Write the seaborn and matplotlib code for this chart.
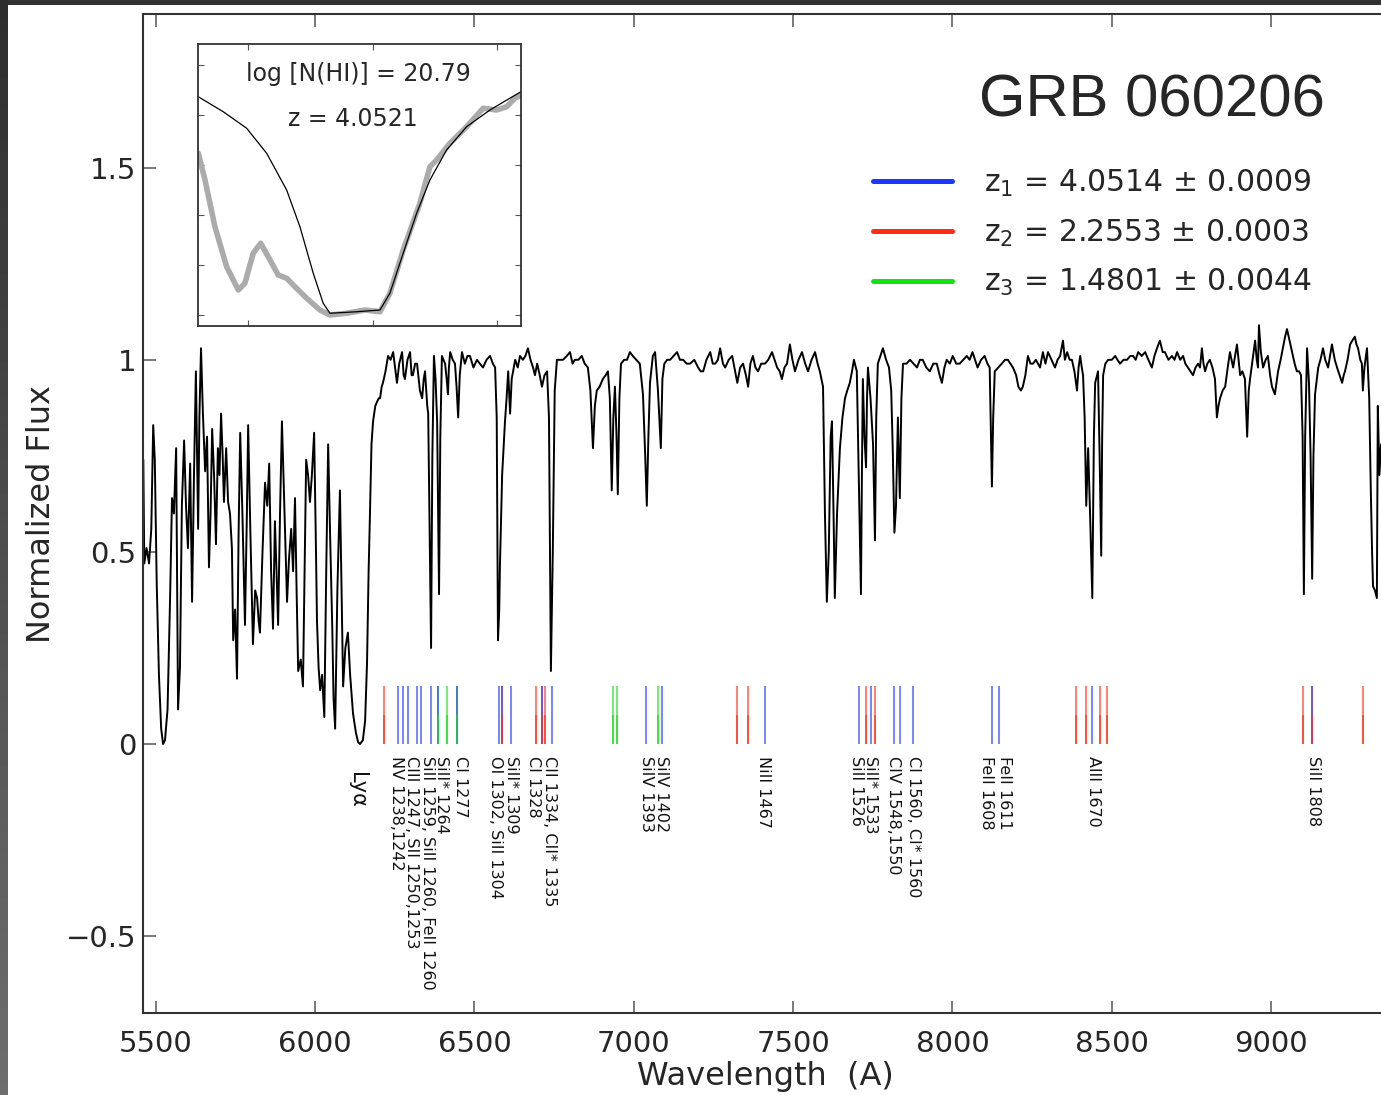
import numpy as np
import pandas as pd
import matplotlib
matplotlib.use("Agg")
import matplotlib.pyplot as plt
from matplotlib.lines import Line2D
from matplotlib.patches import Rectangle
import seaborn as sns

wave = [5461, 5464, 5471, 5479, 5486, 5492, 5497, 5503, 5510, 5517, 5523, 5529, 5537, 5545, 5551, 5557,
        5564, 5570, 5576, 5582, 5589, 5595, 5601, 5608, 5614, 5620, 5626, 5633, 5637, 5642, 5648, 5655,
        5661, 5667, 5672, 5677, 5683, 5689, 5695, 5700, 5705, 5710, 5714, 5721, 5727, 5733, 5739, 5743,
        5749, 5755, 5760, 5765, 5772, 5780, 5786, 5790, 5797, 5805, 5812, 5818, 5823, 5827, 5835, 5843,
        5850, 5856, 5862, 5868, 5874, 5879, 5884, 5890, 5896, 5904, 5912, 5918, 5925, 5931, 5937, 5942,
        5947, 5955, 5962, 5967, 5972, 5978, 5984, 5990, 5997, 6002, 6006, 6011, 6016, 6022, 6029, 6035,
        6041, 6047, 6054, 6058, 6063, 6070, 6078, 6083, 6088, 6095, 6103, 6110, 6119, 6128, 6135, 6141,
        6150, 6157, 6163, 6168, 6172, 6177, 6182, 6189, 6194, 6200, 6204, 6209, 6213,
        6221, 6229, 6237, 6245, 6251, 6257, 6264, 6273, 6278, 6282, 6290, 6298, 6303, 6307, 6314, 6320,
        6329, 6336, 6341, 6345, 6352, 6355, 6364, 6368, 6373, 6378, 6383, 6389, 6393, 6398, 6408, 6413,
        6417, 6420, 6424, 6432, 6439, 6444, 6449, 6454, 6461, 6470, 6478, 6486, 6497, 6508, 6517, 6527,
        6538, 6549, 6558, 6565, 6570, 6574, 6578, 6580, 6587, 6596, 6601, 6606, 6612, 6617, 6628, 6636,
        6643, 6652, 6660, 6668, 6676, 6684, 6690, 6697, 6705, 6712, 6720, 6728, 6734, 6740, 6746, 6752,
        6759, 6768, 6778, 6790, 6800, 6808, 6815, 6826, 6837, 6846, 6856, 6864, 6872, 6878, 6884, 6893,
        6903, 6912, 6919, 6925, 6931, 6936, 6941, 6946, 6950, 6955, 6960, 6970, 6979, 6988, 6997, 7008,
        7019, 7029, 7036, 7041, 7046, 7051, 7060, 7067, 7076, 7085, 7090, 7096, 7105, 7114, 7125, 7136,
        7145, 7155, 7166, 7177, 7190, 7202, 7210, 7218, 7228, 7240, 7248, 7256, 7264, 7271, 7280, 7287,
        7298, 7309, 7318, 7325, 7334, 7343, 7352, 7359, 7366, 7374, 7382, 7390, 7400, 7412, 7422, 7434,
        7442, 7450, 7458, 7465, 7473, 7481, 7490, 7498, 7506, 7517, 7528, 7538, 7547, 7558, 7569, 7577,
        7584, 7594, 7600, 7606, 7612, 7618, 7622, 7627, 7631, 7638, 7647, 7655, 7663, 7670, 7678, 7685,
        7691, 7700, 7706, 7713, 7716, 7719, 7724, 7729, 7732, 7735, 7743, 7751, 7757, 7761, 7766, 7774,
        7782, 7792, 7801, 7808, 7813, 7818, 7823, 7829, 7835, 7840, 7845, 7856, 7867, 7878, 7889, 7898,
        7907, 7918, 7929, 7940, 7951, 7960, 7967, 7975, 7982, 7992, 8001, 8012, 8023, 8034, 8045, 8054,
        8063, 8071, 8079, 8090, 8101, 8110, 8117, 8120, 8124, 8128, 8133, 8144, 8155, 8165, 8174, 8182,
        8190, 8200, 8207, 8215, 8221, 8229, 8237, 8245, 8253, 8262, 8275, 8284, 8292, 8300, 8311, 8322,
        8330, 8338, 8347, 8353, 8360, 8368, 8375, 8383, 8391, 8396, 8401, 8406, 8410, 8415, 8420, 8426,
        8432, 8439, 8444, 8448, 8457, 8462, 8467, 8470, 8473, 8480, 8489, 8500, 8511, 8518, 8526, 8537,
        8548, 8558, 8567, 8575, 8583, 8594, 8605, 8615, 8626, 8634, 8642, 8651, 8660, 8667, 8678, 8689,
        8697, 8705, 8715, 8724, 8731, 8739, 8747, 8755, 8763, 8771, 8777, 8783, 8788, 8793, 8800, 8808,
        8816, 8824, 8830, 8835, 8840, 8848, 8856, 8864, 8871, 8876, 8881, 8887, 8893, 8898, 8903, 8910,
        8918, 8925, 8930, 8934, 8942, 8950, 8955, 8959, 8962, 8968, 8975, 8983, 8990, 8997, 9003, 9012,
        9017, 9022, 9030, 9037, 9044, 9050, 9058, 9066, 9074, 9081, 9088, 9094, 9099, 9103, 9107, 9113,
        9119, 9124, 9129, 9133, 9138, 9148, 9155, 9163, 9170, 9179, 9185, 9191, 9200, 9207, 9215, 9223,
        9228, 9232, 9240, 9248, 9255, 9263, 9268, 9273, 9280, 9285, 9288, 9293, 9301, 9308, 9313, 9317,
        9320, 9326, 9332, 9335, 9340, 9345]
flux = [0.74, 0.47, 0.51, 0.47, 0.56, 0.83, 0.74, 0.42, 0.18, 0.04, 0.00, 0.01, 0.09, 0.38, 0.64, 0.60,
        0.77, 0.09, 0.20, 0.62, 0.79, 0.62, 0.51, 0.73, 0.37, 0.70, 0.97, 0.56, 0.85, 1.03, 0.86, 0.71,
        0.80, 0.46, 0.60, 0.82, 0.70, 0.52, 0.77, 0.70, 0.86, 0.75, 0.63, 0.77, 0.63, 0.60, 0.51, 0.27,
        0.35, 0.17, 0.55, 0.81, 0.60, 0.31, 0.60, 0.83, 0.55, 0.26, 0.40, 0.38, 0.32, 0.29, 0.50, 0.68,
        0.62, 0.73, 0.45, 0.30, 0.58, 0.45, 0.31, 0.60, 0.84, 0.60, 0.37, 0.48, 0.56, 0.45, 0.64, 0.40,
        0.19, 0.22, 0.15, 0.45, 0.74, 0.70, 0.63, 0.70, 0.81, 0.55, 0.32, 0.20, 0.14, 0.18, 0.07, 0.45,
        0.78, 0.55, 0.30, 0.12, 0.04, 0.40, 0.66, 0.40, 0.15, 0.25, 0.29, 0.18, 0.08, 0.03, 0.005, 0.00,
        0.01, 0.06, 0.21, 0.45, 0.59, 0.78, 0.84, 0.88, 0.89, 0.90, 0.90, 0.93, 0.94,
        0.97, 1.01, 1.00, 1.02, 0.98, 0.94, 0.99, 1.02, 0.96, 0.95, 1.00, 1.02, 0.96, 0.96, 0.99, 0.99,
        0.92, 0.90, 0.95, 0.97, 0.88, 0.86, 0.25, 0.75, 1.01, 0.95, 0.84, 0.39, 0.80, 1.01, 0.99, 0.95,
        0.91, 0.98, 1.02, 1.00, 0.99, 0.93, 0.85, 0.96, 1.02, 0.99, 1.01, 1.01, 0.98, 1.00, 0.99, 0.98,
        1.00, 1.01, 0.99, 0.98, 0.85, 0.27, 0.35, 0.46, 0.70, 0.84, 0.90, 0.97, 0.86, 0.95, 1.00, 0.98,
        1.01, 1.00, 1.01, 1.03, 1.00, 0.98, 0.96, 0.99, 0.96, 0.93, 0.96, 0.97, 0.85, 0.19, 0.50, 0.92,
        1.00, 1.00, 1.00, 1.01, 1.02, 0.99, 1.00, 1.00, 1.01, 0.99, 0.98, 0.92, 0.77, 0.88, 0.92, 0.93,
        0.95, 0.96, 0.97, 0.90, 0.66, 0.85, 0.93, 0.80, 0.65, 0.90, 0.99, 1.00, 1.00, 1.02, 1.01, 1.00,
        0.99, 0.91, 0.75, 0.62, 0.80, 0.94, 1.01, 1.02, 0.92, 0.77, 0.95, 0.99, 1.00, 1.00, 1.01, 1.02,
        1.00, 1.00, 0.99, 0.99, 1.00, 0.98, 0.97, 0.97, 1.00, 1.02, 0.99, 0.99, 1.00, 1.03, 0.99, 0.98,
        1.00, 1.01, 0.97, 0.94, 0.98, 0.99, 0.96, 0.93, 0.99, 1.01, 0.98, 0.97, 0.99, 0.99, 1.00, 1.02,
        1.00, 0.98, 0.97, 0.95, 0.98, 0.99, 1.04, 1.00, 0.97, 1.00, 1.02, 0.99, 0.97, 1.00, 1.02, 0.99,
        0.97, 0.93, 0.60, 0.37, 0.50, 0.80, 0.84, 0.60, 0.38, 0.60, 0.77, 0.85, 0.90, 0.92, 0.94, 0.97,
        1.00, 0.97, 0.70, 0.39, 0.70, 0.95, 0.80, 0.72, 0.90, 0.98, 0.90, 0.78, 0.53, 0.85, 0.99, 1.01,
        1.03, 1.00, 0.98, 0.92, 0.76, 0.55, 0.62, 0.85, 0.64, 0.90, 0.99, 0.99, 1.00, 0.99, 0.98, 1.00,
        1.00, 0.98, 0.97, 0.99, 0.99, 0.96, 0.94, 0.98, 1.00, 0.99, 1.01, 0.99, 0.99, 1.00, 1.01, 1.00,
        1.02, 1.00, 0.98, 1.00, 1.01, 0.99, 0.98, 0.85, 0.67, 0.85, 0.97, 0.98, 0.99, 1.00, 1.00, 0.99,
        0.98, 0.96, 0.93, 0.92, 0.93, 0.96, 1.01, 0.99, 0.99, 1.00, 0.98, 1.02, 0.99, 1.02, 1.00, 0.98,
        1.00, 1.01, 1.05, 1.00, 1.02, 1.00, 1.00, 0.97, 0.92, 0.98, 1.01, 0.98, 0.96, 0.85, 0.62, 0.77,
        0.60, 0.38, 0.80, 0.94, 0.97, 0.75, 0.49, 0.80, 0.96, 0.99, 1.00, 1.00, 1.01, 1.00, 0.99, 1.00,
        1.00, 1.01, 1.01, 1.00, 1.02, 1.01, 1.02, 1.00, 0.98, 1.01, 1.03, 1.05, 1.02, 1.02, 1.00, 1.01,
        1.00, 1.02, 1.00, 1.01, 0.99, 0.98, 0.97, 0.96, 0.98, 0.99, 0.98, 1.03, 0.99, 0.97, 0.99, 1.00,
        0.98, 0.95, 0.85, 0.88, 0.90, 0.92, 0.93, 0.98, 1.02, 1.00, 0.98, 1.01, 1.04, 1.00, 0.96, 0.97,
        0.95, 0.80, 0.92, 0.95, 1.00, 1.05, 1.00, 0.98, 1.09, 1.02, 0.98, 1.00, 1.01, 0.96, 0.93, 0.91,
        0.94, 0.97, 1.00, 1.03, 1.06, 1.08, 1.05, 1.02, 0.99, 0.97, 0.97, 0.96, 0.80, 0.39, 0.80, 1.03,
        0.94, 0.75, 0.43, 0.75, 0.91, 0.98, 1.00, 1.03, 1.00, 0.98, 1.01, 1.04, 1.00, 0.98, 0.96, 0.94,
        0.96, 0.97, 1.00, 1.04, 1.05, 1.06, 1.04, 1.03, 1.00, 0.99, 0.92, 0.98, 1.03, 0.90, 0.66, 0.50,
        0.41, 0.40, 0.38, 0.88, 0.70, 0.78]

# --- absorption line positions (observed wavelength, A) for the three systems ---
z1_lines = [6261, 6277, 6293, 6319, 6332, 6363, 6387, 6446, 6578, 6587, 6614, 6711, 6743,
            7039, 7088, 7412, 7708, 7745, 7817, 7836, 7877, 8123, 8146, 8438, 9128]
z2_lines = [6216, 6587, 6693, 6711, 6722, 7323, 7360, 7729, 7758, 8388, 8418, 8463, 8486,
            9101, 9128, 9289]
z3_lines = [6387, 6413, 6446, 6934, 6949, 7077]

legend_labels = ["$z_1$ = 4.0514 \u00b1 0.0009",
                 "$z_2$ = 2.2553 \u00b1 0.0003",
                 "$z_3$ = 1.4801 \u00b1 0.0044"]

line_names = ["NV 1238,1242", "CIII 1247, SII 1250,1253", "SiII 1259, SiII 1260, FeII 1260",
              "SiII* 1264", "CI 1277", "OI 1302, SiII 1304", "SiII* 1309", "CI 1328",
              "CII 1334, CII* 1335", "SiIV 1393", "SiIV 1402", "NiII 1467", "SiII 1526",
              "SiII* 1533", "CIV 1548,1550", "CI 1560, CI* 1560", "FeII 1608", "FeII 1611",
              "AlII 1670", "SiII 1808"]
name_wave = [6256, 6303, 6352, 6397, 6457, 6565, 6617, 6685, 6737, 7041, 7088, 7407, 7700,
             7742, 7815, 7877, 8108, 8165, 8442, 9133]
lya_wave = 6131

# --- inset: Lya damped absorption, data (grey) and Voigt fit (black) ---
fit_wave = [6009.8, 6029.9, 6048.7, 6064.8, 6080.9, 6091.6, 6102.3, 6110.3, 6115.7, 6137.2, 6156.0,
            6164.0, 6174.7, 6185.5, 6196.2, 6209.6, 6225.7, 6244.5, 6269.4]
fit_flux = [0.873, 0.813, 0.747, 0.647, 0.500, 0.353, 0.167, 0.047, 0.007, 0.013, 0.020,
            0.087, 0.247, 0.407, 0.540, 0.660, 0.753, 0.820, 0.893]
dla_wave = [6009.8, 6015.2, 6023.2, 6032.6, 6042.0, 6047.3, 6054.0, 6060.0, 6066.1, 6074.1, 6080.9,
            6087.6, 6097.0, 6107.7, 6115.7, 6129.1, 6143.9, 6156.0, 6164.0, 6174.7, 6188.1, 6196.2,
            6201.6, 6212.3, 6225.7, 6239.1, 6249.8, 6257.9, 6264.6, 6269.4]
dla_flux = [0.647, 0.540, 0.353, 0.193, 0.100, 0.127, 0.247, 0.287, 0.233, 0.160, 0.147,
            0.113, 0.067, 0.020, 0.000, 0.007, 0.020, 0.013, 0.087, 0.260, 0.447, 0.593,
            0.620, 0.687, 0.753, 0.827, 0.820, 0.833, 0.867, 0.880]

spec = pd.DataFrame({"wave": wave, "flux": flux})

sns.set_style("ticks")
plt.rcParams["font.family"] = ["DejaVu Sans"]
plt.rcParams["mathtext.default"] = "regular"
plt.rcParams["xtick.direction"] = "in"
plt.rcParams["ytick.direction"] = "in"

W, H = 1381, 1095
fig = plt.figure(figsize=(W / 100, H / 100), dpi=100)
ax = fig.add_axes([143 / W, 82 / H, 1238 / W, 999 / H])

blue, red, green = "#1937ff", "#ff2d14", "#14e114"

sns.lineplot(data=spec, x="wave", y="flux", ax=ax, color="black", linewidth=1.4,
             estimator=None, sort=False)

# line ticks: secondary systems first, then z1, then the lower half of the secondary systems again
ax.vlines(z2_lines, 0, 0.15, colors=red, lw=1.2, alpha=0.7)
ax.vlines(z3_lines, 0, 0.15, colors=green, lw=1.2, alpha=0.7)
ax.vlines(z1_lines, 0, 0.15, colors=blue, lw=1.2, alpha=0.7)
ax.vlines(z2_lines, 0, 0.075, colors=red, lw=1.2, alpha=0.7)
ax.vlines(z3_lines, 0, 0.075, colors=green, lw=1.2, alpha=0.7)

for name, wl in zip(line_names, name_wave):
    ax.text(wl, -0.032, name, rotation=270, ha="center", va="top", fontsize=11.5, color="#111111")
ax.text(lya_wave, -0.074, "Ly\u03b1", rotation=270, ha="center", va="top", fontsize=15, color="#111111")

ax.set_xlim(5460, 9345)
ax.set_ylim(-0.70, 1.90)
ax.set_xticks([5500, 6000, 6500, 7000, 7500, 8000, 8500, 9000])
ax.set_xticklabels(["5500", "6000", "6500", "7000", "7500", "8000", "8500", "9000"])
ax.set_yticks([-0.5, 0, 0.5, 1, 1.5])
ax.set_yticklabels(["\u22120.5", "0", "0.5", "1", "1.5"])
ax.tick_params(axis="x", top=True, length=9, width=1.1, color="#555555", pad=12, labelsize=21)
ax.tick_params(axis="y", length=9, width=1.1, color="#555555", pad=5, labelsize=21)
ax.set_xlabel("")
ax.set_ylabel("")
ax.spines["right"].set_visible(False)
for s in ["left", "top", "bottom"]:
    ax.spines[s].set_linewidth(1.5)
    ax.spines[s].set_color("#333333")

fig.text(765.5 / W, 1 - 1076.6 / H, "Wavelength  (A)", ha="center", va="center", fontsize=23)
fig.text(41.6 / W, 1 - 514 / H, "Normalized Flux", ha="center", va="center", rotation=90, fontsize=23)

ax.text(0.815, 0.8969, "GRB 060206", transform=ax.transAxes, ha="center", va="baseline",
        fontsize=43, family=["Liberation Sans", "DejaVu Sans"])

handles = [Line2D([], [], color=c, lw=3.6) for c in (blue, red, green)]
ax.legend(handles, legend_labels, loc="upper left", bbox_to_anchor=(0.5897, 0.846),
          frameon=False, fontsize=21.5, handlelength=2.65, handletextpad=1.05,
          labelspacing=0.62, borderpad=0, borderaxespad=0)

# inset
ins = fig.add_axes([198.3 / W, 1 - 326 / H, 322.7 / W, 282 / H])
sns.lineplot(x=dla_wave, y=dla_flux, ax=ins, color="#ababab", linewidth=4.0, estimator=None, sort=False)
sns.lineplot(x=fit_wave, y=fit_flux, ax=ins, color="black", linewidth=0.9, estimator=None, sort=False)
ins.set_xlim(6009.8, 6269.5)
ins.set_ylim(-0.044, 1.084)
ins.set_xticks([6050, 6150, 6250])
ins.set_yticks([0, 0.2, 0.4, 0.6, 0.8, 1.0])
ins.tick_params(top=True, right=True, length=4, width=0.8, color="#555555",
                labelbottom=False, labelleft=False)
for s in ins.spines.values():
    s.set_linewidth(1.3)
    s.set_color("#333333")
ins.text(0.495, 0.894, "log [N(HI)] = 20.79", transform=ins.transAxes, ha="center", va="center", fontsize=17)
ins.text(0.479, 0.734, "z = 4.0521", transform=ins.transAxes, ha="center", va="center", fontsize=17)

# dark screenshot frame along the top and left edges
fig.add_artist(Rectangle((0, 1 - 4.5 / H), 1, 4.5 / H, transform=fig.transFigure,
                         color="#323232", lw=0, zorder=10))
edge = fig.add_axes([0, 0, 7.5 / W, 1], zorder=10)
edge.imshow(np.linspace(0.18, 0.43, 100).reshape(-1, 1), cmap="gray", vmin=0, vmax=1,
            aspect="auto", extent=(0, 1, 0, 1), origin="upper")
edge.axis("off")

fig.savefig("out.png", dpi=100)
